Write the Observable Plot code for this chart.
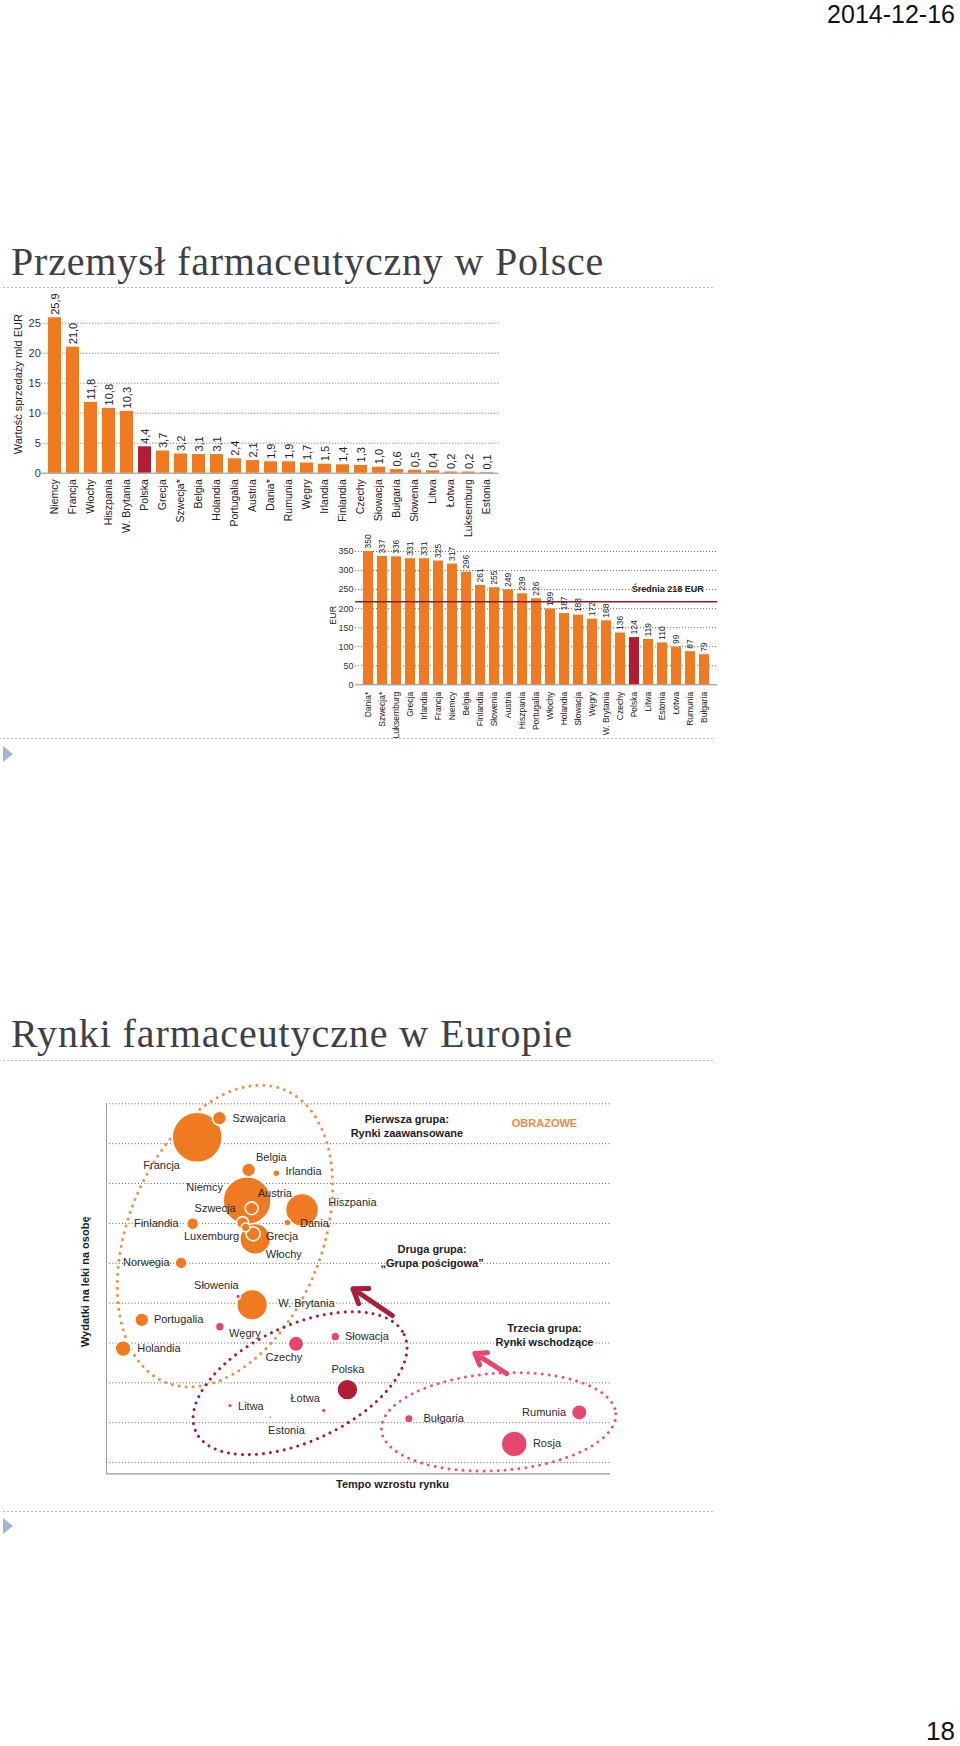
<!DOCTYPE html>
<html><head><meta charset="utf-8">
<script src="https://cdn.jsdelivr.net/npm/d3@7"></script>
<script src="https://cdn.jsdelivr.net/npm/@observablehq/plot@0.6"></script>
<style>
html,body{margin:0;padding:0;background:#fff;}
#page{position:relative;width:960px;height:1746px;overflow:hidden;font-family:"Liberation Sans",Arial,sans-serif;}
#page > svg{position:absolute;}
</style></head><body><div id="page"></div>
<script>
// ---------- text ----------
const dateText = "2014-12-16";
const pageNumber = "18";
const title1 = "Przemysł farmaceutyczny w Polsce";
const title2 = "Rynki farmaceutyczne w Europie";

// ---------- chart 1: sales value (bn EUR) ----------
const salesCountries = ["Niemcy","Francja","Włochy","Hiszpania","W. Brytania","Polska","Grecja","Szwecja*","Belgia","Holandia","Portugalia","Austria","Dania*","Rumunia","Węgry","Irlandia","Finlandia","Czechy","Słowacja","Bułgaria","Słowenia","Litwa","Łotwa","Luksemburg","Estonia"];
const salesValues = [25.9,21.0,11.8,10.8,10.3,4.4,3.7,3.2,3.1,3.1,2.4,2.1,1.9,1.9,1.7,1.5,1.4,1.3,1.0,0.6,0.5,0.4,0.2,0.2,0.1];
const salesTicks = [0,5,10,15,20,25];
const salesAxisLabel = "Wartość sprzedaży mld EUR";
const highlightCountry = "Polska";

// ---------- chart 2: spending per person (EUR) ----------
const spendCountries = ["Dania*","Szwecja*","Luksemburg","Grecja","Irlandia","Francja","Niemcy","Belgia","Finlandia","Słowenia","Austria","Hiszpania","Portugalia","Włochy","Holandia","Słowacja","Węgry","W. Brytania","Czechy","Polska","Litwa","Estonia","Łotwa","Rumunia","Bułgaria"];
const spendValues = [350,337,336,331,331,325,317,296,261,255,249,239,226,199,187,183,172,168,136,124,119,110,99,87,79];
const spendTicks = [0,50,100,150,200,250,300,350];
const spendAxisLabel = "EUR";
const spendAverage = 218;
const spendAverageLabel = "Średnia 218 EUR";

// ---------- chart 3: markets bubble chart ----------
const marketCountries = ["Francja","Szwajcaria","Belgia","Irlandia","Niemcy","Hiszpania","Austria","Szwecja","Luxemburg","Grecja","Włochy","Dania","Finlandia","Norwegia","Słowenia","W. Brytania","Portugalia","Holandia","Węgry","Czechy","Słowacja","Polska","Łotwa","Litwa","Estonia","Bułgaria","Rumunia","Rosja"];
const marketGrowth   = [18.0,22.4,28.2,33.7,27.9,38.8,28.8,27.0,27.6,29.1,29.5,35.9,17.1,14.8,26.1,28.9,7.0,3.3,22.5,37.6,45.4,47.8,43.1,24.5,32.5,60.0,93.8,80.9];
const marketSpending = [9.16,9.64,8.34,8.26,7.57,7.34,7.38,7.02,6.9,6.74,6.61,7.02,6.99,6.01,5.17,4.96,4.58,3.86,4.41,3.98,4.16,2.83,2.31,2.43,2.14,2.10,2.26,1.47];
const marketSize     = [100,7.8,7.8,2.0,92,43.6,6.6,5.8,3.0,7.8,38,2.0,5.8,5.8,1.0,38,7.8,10.2,3.2,9.7,3.2,17.6,1.0,1.0,0.4,3.0,9.7,27];
const marketGroup    = ["zaawansowane","zaawansowane","zaawansowane","zaawansowane","zaawansowane","zaawansowane","zaawansowane","zaawansowane","zaawansowane","zaawansowane","zaawansowane","zaawansowane","zaawansowane","zaawansowane","wschodzące","zaawansowane","zaawansowane","zaawansowane","wschodzące","wschodzące","wschodzące","Polska","wschodzące","wschodzące","wschodzące","wschodzące","wschodzące","wschodzące"];
const labelGrowth    = [7.3,25.0,32.7,35.5,23.1,44.0,33.4,25.6,26.3,31.6,31.6,38.4,14.3,12.5,21.8,34.1,9.4,6.1,24.3,35.2,47.3,47.9,39.4,26.1,35.7,62.9,91.2,84.6];
const labelSpending  = [8.45,9.64,8.65,8.31,7.91,7.52,7.74,7.38,6.67,6.67,6.22,7.0,7.0,6.01,5.44,4.98,4.58,3.86,4.23,3.63,4.16,3.34,2.60,2.41,1.81,2.10,2.26,1.47];
const labelSide      = ["start","start","middle","start","end","start","middle","end","end","start","start","start","end","end","middle","start","start","start","start","middle","start","middle","middle","start","middle","start","end","start"];
const marketYDomain = [0.72, 10];
const marketGridTicks = [1,2,3,4,5,6,7,8,9,10];
const marketXDomain = [0, 100];
const marketYLabel = "Wydatki na leki na osobę";
const marketXLabel = "Tempo wzrostu rynku";

const groupTitleText = ["Pierwsza grupa:","Rynki zaawansowane","OBRAZOWE","Druga grupa:","„Grupa pościgowa”","Trzecia grupa:","Rynki wschodzące"];
const groupTitleX    = [59.6,59.6,86.9,64.6,64.6,86.9,86.9];
const groupTitleY    = [9.60,9.26,9.50,6.35,5.99,4.37,4.02];
const groupTitleKind = ["group","group","source","group","group","group","group"];

const ellipseX = [23.6,38.5,77.9];
const ellipseY = [6.67,2.98,2.01];
const ellipseRx = [19.25,22.8,23.3];
const ellipseRy = [3.96,1.45,1.22];
const ellipseAngle = [22,-25,-4];
const ellipseGroup = ["zaawansowane","pościgowa","wschodzące"];

const arrowX1 = [56.7,79.4], arrowY1 = [4.69,3.23];
const arrowX2 = [48.9,73.1], arrowY2 = [5.36,3.74];
const arrowGroup = ["pościgowa","wschodzące"];

// ---------- colours ----------
const ORANGE = "#F07A22", DARK = "#B11E34", PINK = "#E8466C";
const fillByGroup = {"zaawansowane": ORANGE, "wschodzące": PINK, "Polska": DARK};
const ellipseColor = {"zaawansowane": "#EA914E", "pościgowa": "#A2213F", "wschodzące": "#E8557A"};
const arrowColor = {"pościgowa": "#A6203B", "wschodzące": "#E8466C"};
const FONT = "Liberation Sans, Arial, sans-serif";

const page = document.getElementById("page");

// ---------- page decorations ----------
const deco = d3.create("svg").attr("width",960).attr("height",1746).style("left","0px").style("top","0px");
deco.append("text").attr("x",955).attr("y",23).attr("text-anchor","end").attr("font-family",FONT).attr("font-size",25).attr("fill","#111").text(dateText);
deco.append("text").attr("x",955).attr("y",1740).attr("text-anchor","end").attr("font-family",FONT).attr("font-size",26).attr("fill","#111").text(pageNumber);
deco.append("text").attr("x",11).attr("y",275).attr("font-family","Liberation Serif, serif").attr("font-size",40).attr("letter-spacing",0.8).attr("fill","#3f3f48").text(title1);
deco.append("text").attr("x",11).attr("y",1047).attr("font-family","Liberation Serif, serif").attr("font-size",40).attr("letter-spacing",0.9).attr("fill","#3f3f48").text(title2);
for (const y of [287.5, 738.5, 1060.5, 1511.5]) {
  deco.append("line").attr("x1",3).attr("x2",713).attr("y1",y).attr("y2",y).attr("stroke","#a9bccf").attr("stroke-width",1).attr("stroke-dasharray","2 2");
}
for (const c of [754, 1526]) {
  deco.append("polygon").attr("points",`3,${c-8} 13,${c} 3,${c+8}`).attr("fill","#a3b6ce");
}
page.appendChild(deco.node());

function place(svg, left, top) {
  svg.style.position = "absolute";
  svg.style.left = left + "px";
  svg.style.top = top + "px";
  svg.style.overflow = "visible";
  svg.style.background = "transparent";
  page.appendChild(svg);
}
const fmt1 = v => v.toFixed(1).replace(".", ",");

// ---------- chart 1 ----------
const salesData = salesCountries.map((c, i) => ({country: c, value: salesValues[i]}));
const chart1 = Plot.plot({
  width: 520, height: 252,
  marginLeft: 41.3, marginRight: 21.5, marginTop: 34.7, marginBottom: 67.3,
  style: {fontFamily: FONT, background: "transparent"},
  x: {domain: salesCountries, padding: 0.3, axis: null},
  y: {domain: [0, 25], axis: null},
  marks: [
    Plot.gridY(salesTicks.filter(t => t > 0), {stroke: "#666", strokeOpacity: 1, strokeDasharray: "1 2"}),
    Plot.barY(salesData, {x: "country", y: "value", fill: d => d.country === highlightCountry ? DARK : ORANGE}),
    Plot.ruleY([0], {stroke: "#888"}),
    Plot.axisY({ticks: salesTicks, tickSize: 0, tickPadding: 1, fontSize: 11, label: null, fill: "#333"}),
    Plot.axisX({tickSize: 0, tickPadding: 6, tickRotate: -90, fontSize: 10.5, label: null, fill: "#222"}),
    Plot.text(salesData, {x: "country", y: "value", text: d => fmt1(d.value), rotate: -90, textAnchor: "start", dy: -3, fontSize: 11, fill: "#222"}),
    Plot.text([salesAxisLabel], {frameAnchor: "left", textAnchor: "middle", rotate: -90, dx: -23, dy: -14, fontSize: 11, fill: "#222"})
  ]
});
place(chart1, 0, 288);

// ---------- chart 2 ----------
const spendData = spendCountries.map((c, i) => ({country: c, value: spendValues[i]}));
const chart2 = Plot.plot({
  width: 420, height: 212,
  marginLeft: 55.1, marginRight: 2.8, marginTop: 21, marginBottom: 57.7,
  style: {fontFamily: FONT, background: "transparent"},
  x: {domain: spendCountries, padding: 0.27, axis: null},
  y: {domain: [0, 350], axis: null},
  marks: [
    Plot.gridY(spendTicks.filter(t => t > 0), {stroke: "#666", strokeOpacity: 1, strokeDasharray: "1 2"}),
    Plot.barY(spendData, {x: "country", y: "value", fill: d => d.country === highlightCountry ? DARK : ORANGE}),
    Plot.ruleY([0], {stroke: "#888"}),
    Plot.ruleY([spendAverage], {stroke: "#8E1B2E", strokeWidth: 1.3}),
    Plot.text([spendAverageLabel], {frameAnchor: "right", y: [spendAverage], textAnchor: "end", dx: -14, dy: -13, fontSize: 9, fontWeight: "bold", fill: "#222"}),
    Plot.axisY({ticks: spendTicks, tickSize: 0, tickPadding: 2, fontSize: 9, label: null, fill: "#333"}),
    Plot.axisX({tickSize: 0, tickPadding: 7, tickRotate: -90, fontSize: 8.5, label: null, fill: "#222"}),
    Plot.text(spendData, {x: "country", y: "value", text: d => String(d.value), rotate: -90, textAnchor: "start", dy: -3, fontSize: 8.5, fill: "#222"}),
    Plot.text([spendAxisLabel], {frameAnchor: "left", textAnchor: "middle", rotate: -90, dx: -22, dy: -3, fontSize: 9, fill: "#222"})
  ]
});
place(chart2, 300, 530);

// ---------- chart 3 ----------
const markets = marketCountries.map((c, i) => ({
  country: c, growth: marketGrowth[i], spending: marketSpending[i], size: marketSize[i], group: marketGroup[i],
  lx: labelGrowth[i], ly: labelSpending[i], side: labelSide[i]
}));
const bubbles = markets.slice().sort((a, b) => b.size - a.size);
const groupTitles = groupTitleText.map((t, i) => ({text: t, x: groupTitleX[i], y: groupTitleY[i], kind: groupTitleKind[i]}));
const ellipses = ellipseX.map((x, i) => ({x, y: ellipseY[i], rx: ellipseRx[i], ry: ellipseRy[i], angle: ellipseAngle[i], group: ellipseGroup[i]}));
const arrows = arrowX1.map((x1, i) => ({x1, y1: arrowY1[i], x2: arrowX2[i], y2: arrowY2[i], group: arrowGroup[i]}));

function ellipseMark(index, scales) {
  const sx = typeof scales.x === "function" ? scales.x : scales.scales.x.apply;
  const sy = typeof scales.y === "function" ? scales.y : scales.scales.y.apply;
  const g = d3.create("svg:g").attr("fill", "none");
  for (const e of ellipses) {
    const cx = sx(e.x), cy = sy(e.y);
    const rx = Math.abs(sx(e.x + e.rx) - cx), ry = Math.abs(sy(e.y + e.ry) - cy);
    g.append("ellipse").attr("cx", cx).attr("cy", cy).attr("rx", rx).attr("ry", ry)
      .attr("transform", `rotate(${e.angle} ${cx} ${cy})`)
      .attr("stroke", ellipseColor[e.group]).attr("stroke-width", 3)
      .attr("stroke-linecap", "round").attr("stroke-dasharray", "0 7");
  }
  return g.node();
}

const labelMark = side => Plot.text(markets.filter(d => d.side === side), {
  x: "lx", y: "ly", text: "country", textAnchor: side, fontSize: 11, fill: "#2b2b2b"
});

const chart3 = Plot.plot({
  width: 640, height: 430,
  marginLeft: 106, marginRight: 30, marginTop: 33.3, marginBottom: 26.7,
  style: {fontFamily: FONT, background: "transparent"},
  x: {domain: marketXDomain, axis: null},
  y: {domain: marketYDomain, axis: null},
  r: {type: "sqrt", domain: [0, 100], range: [0, 25]},
  marks: [
    Plot.gridY(marketGridTicks, {stroke: "#6b5a5a", strokeOpacity: 1, strokeDasharray: "1 2.2"}),
    Plot.ruleX([marketXDomain[0]], {y1: marketYDomain[0], y2: marketYDomain[1], stroke: "#999"}),
    Plot.ruleY([marketYDomain[0]], {stroke: "#999", strokeWidth: 1.2}),
    ellipseMark,
    Plot.arrow(arrows, {x1: "x1", y1: "y1", x2: "x2", y2: "y2", stroke: d => arrowColor[d.group], strokeWidth: 5, headLength: 14, headAngle: 70}),
    Plot.dot(bubbles, {x: "growth", y: "spending", r: "size", fill: d => fillByGroup[d.group], fillOpacity: 1, stroke: "white", strokeWidth: 1.6}),
    labelMark("start"), labelMark("end"), labelMark("middle"),
    Plot.text(groupTitles.filter(d => d.kind === "group"), {x: "x", y: "y", text: "text", fontSize: 11, fontWeight: "bold", fill: "#1e1e1e"}),
    Plot.text(groupTitles.filter(d => d.kind === "source"), {x: "x", y: "y", text: "text", fontSize: 11, fontWeight: "bold", fill: "#EE8A48", letterSpacing: 0.3}),
    Plot.text([marketYLabel], {frameAnchor: "left", textAnchor: "middle", rotate: -90, dx: -21, dy: -7, fontSize: 11, fontWeight: "bold", fill: "#1e1e1e"}),
    Plot.text([marketXLabel], {frameAnchor: "bottom", dx: 34, dy: 14, fontSize: 11, fontWeight: "bold", fill: "#1e1e1e"})
  ]
});
place(chart3, 0, 1070);
</script></body></html>
